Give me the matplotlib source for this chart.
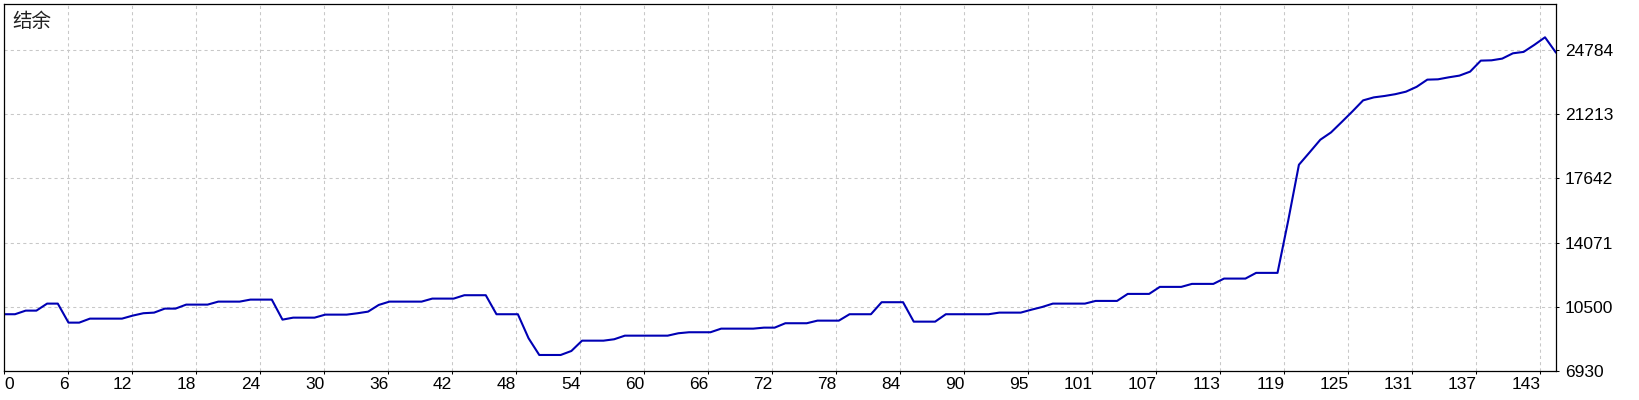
import matplotlib
matplotlib.use("Agg")
import matplotlib.pyplot as plt

# 结余曲线 (每笔交易后的余额)
balance = [
    10077, 10077, 10278, 10278, 10669, 10669, 9609, 9609, 9832, 9832,
    9832, 9832, 10000, 10133, 10167, 10390, 10390, 10613, 10613, 10613,
    10780, 10780, 10780, 10892, 10892, 10892, 9776, 9887, 9887, 9887,
    10055, 10055, 10055, 10130, 10222, 10596, 10780, 10780, 10780, 10780,
    10948, 10948, 10948, 11137, 11137, 11137, 10077, 10077, 10077, 8738,
    7806, 7806, 7806, 8029, 8604, 8604, 8604, 8682, 8883, 8883,
    8883, 8883, 8883, 9017, 9073, 9073, 9073, 9274, 9274, 9274,
    9274, 9330, 9330, 9575, 9575, 9575, 9720, 9720, 9720, 10077,
    10077, 10077, 10747, 10747, 10747, 9664, 9664, 9664, 10077, 10077,
    10077, 10077, 10077, 10167, 10167, 10167, 10330, 10480, 10669, 10669,
    10669, 10669, 10819, 10819, 10819, 11210, 11210, 11210, 11601, 11601,
    11601, 11768, 11768, 11768, 12064, 12064, 12064, 12382, 12382, 12382,
    15300, 18408, 19100, 19803, 20210, 20790, 21380, 21996, 22163, 22240,
    22340, 22480, 22750, 23151, 23169, 23280, 23375, 23597, 24211, 24228,
    24323, 24619, 24697, 25088, 25511, 24675,
]
trades = list(range(len(balance)))

x_labels = ["0", "6", "12", "18", "24", "30", "36", "42", "48", "54", "60",
            "66", "72", "78", "84", "90", "95", "101", "107", "113", "119",
            "125", "131", "137", "143"]
y_ticks = [6930, 10500, 14071, 17642, 21213, 24784]

plt.rcParams["font.family"] = ["Liberation Sans", "DejaVu Sans"]

fig = plt.figure(figsize=(16.4, 4), dpi=100)
ax = fig.add_axes([0.00262, 0.07325, 0.94598, 0.916])

ax.plot(trades, balance, color="#0000b4", linewidth=1.5)

ax.set_xlim(0, 145)
ax.set_ylim(6930, 27350)

# 网格间距固定 64px
step = 5.982
ax.set_xticks([k * step for k in range(len(x_labels))])
ax.set_xticklabels(x_labels)
for i, lbl in enumerate(ax.get_xticklabels()):
    lbl.set_horizontalalignment("left" if i == 0 else "right")

ax.yaxis.tick_right()
ax.set_yticks(y_ticks)
ax.set_yticklabels([str(v) for v in y_ticks])

ax.grid(True, color="#c8c8c8", linestyle=(0, (3, 3)), linewidth=0.75)
ax.tick_params(axis="both", length=2.2, width=0.75, labelsize=12.5, colors="black")
ax.tick_params(axis="x", pad=2)
ax.tick_params(axis="y", pad=4.5)
for s in ax.spines.values():
    s.set_linewidth(0.9)
    s.set_color("black")

fig.text(12 / 1640, 1 - 11 / 400, "结余", ha="left", va="top",
         fontsize=14, family=["Noto Sans CJK SC", "DejaVu Sans"], color="#222222")

fig.savefig("out.png", dpi=100, facecolor="white")
